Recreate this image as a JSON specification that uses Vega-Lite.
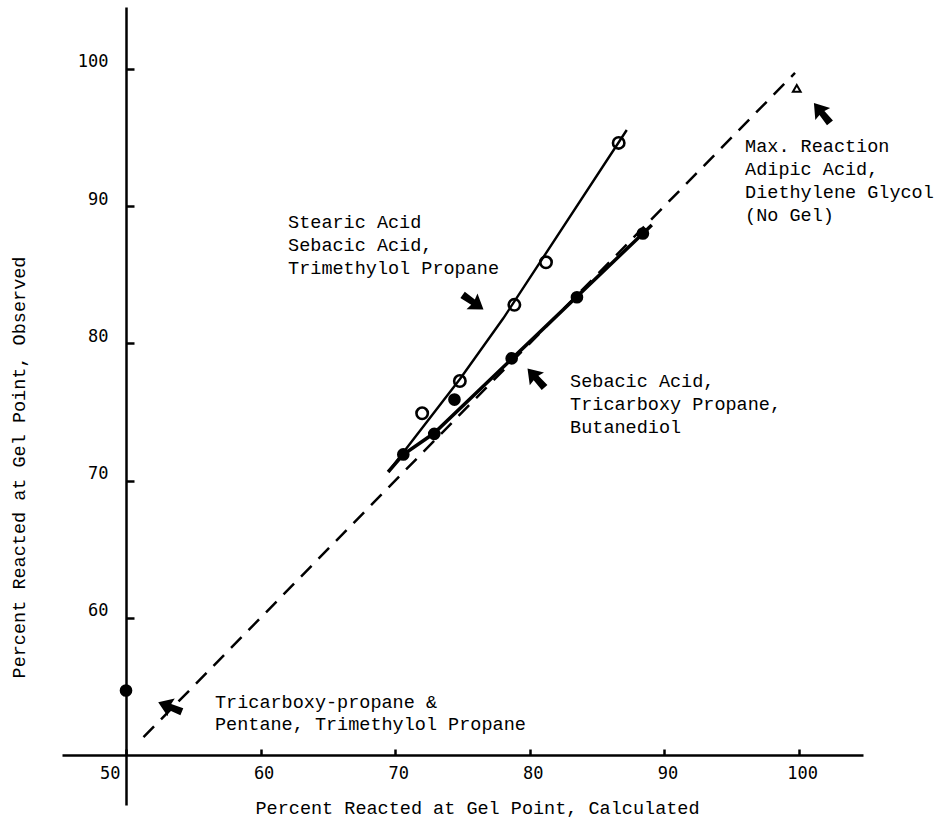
{
  "$schema": "https://vega.github.io/schema/vega-lite/v6.json",
  "width": 801,
  "height": 798,
  "autosize": {"type": "none"},
  "padding": {"left": 62, "top": 7, "right": 79, "bottom": 15},
  "background": "white",
  "config": {"view": {"stroke": null}, "axis": {"grid": false}},
  "datasets": {
    "diag": [{"x": 51.3, "y": 51.3}, {"x": 99.7, "y": 99.7}],
    "openLine": [
      {"x": 69.49, "y": 70.64},
      {"x": 74.81, "y": 77.4},
      {"x": 78.03, "y": 81.82},
      {"x": 87.2, "y": 95.54}
    ],
    "filledLine": [
      {"x": 69.47, "y": 70.62},
      {"x": 70.6, "y": 71.9},
      {"x": 72.88, "y": 73.44},
      {"x": 89.06, "y": 88.62}
    ],
    "open": [
      {"x": 72.0, "y": 74.9},
      {"x": 74.8, "y": 77.25},
      {"x": 78.85, "y": 82.8},
      {"x": 81.2, "y": 85.9},
      {"x": 86.6, "y": 94.6}
    ],
    "filled": [
      {"x": 70.6, "y": 71.9},
      {"x": 72.9, "y": 73.4},
      {"x": 74.4, "y": 75.9},
      {"x": 78.65, "y": 78.9},
      {"x": 83.5, "y": 83.35},
      {"x": 88.4, "y": 88.0},
      {"x": 50.0, "y": 54.7}
    ],
    "maxpt": [{"x": 99.83, "y": 98.57}],
    "arrows": [
      {"x": 101.7, "y": 96.78, "dir": 321},
      {"x": 80.46, "y": 77.47, "dir": 318},
      {"x": 75.78, "y": 83.0, "dir": 125},
      {"x": 53.27, "y": 53.5, "dir": 292}
    ],
    "labels": [
      {"x": 62.04, "y": 88.4, "t": "Stearic Acid"},
      {"x": 62.04, "y": 86.72, "t": "Sebacic Acid,"},
      {"x": 62.04, "y": 85.05, "t": "Trimethylol Propane"},
      {"x": 82.99, "y": 76.81, "t": "Sebacic Acid,"},
      {"x": 82.99, "y": 75.14, "t": "Tricarboxy Propane,"},
      {"x": 82.99, "y": 73.46, "t": "Butanediol"},
      {"x": 95.99, "y": 93.93, "t": "Max. Reaction"},
      {"x": 95.99, "y": 92.26, "t": "Adipic Acid,"},
      {"x": 95.99, "y": 90.58, "t": "Diethylene Glycol"},
      {"x": 95.99, "y": 88.91, "t": "(No Gel)"},
      {"x": 56.61, "y": 53.42, "t": "Tricarboxy-propane &"},
      {"x": 56.61, "y": 51.82, "t": "Pentane, Trimethylol Propane"}
    ]
  },
  "encoding": {
    "x": {
      "field": "x",
      "type": "quantitative",
      "scale": {"domain": [45.245, 104.75], "nice": false, "zero": false},
      "axis": {
        "title": "Percent Reacted at Gel Point, Calculated",
        "values": [50, 60, 70, 80, 90, 100],
        "offset": -50,
        "domainColor": "black",
        "domainWidth": 2.5,
        "tickColor": "black",
        "tickWidth": 2.5,
        "tickSize": -6,
        "labelPadding": 16,
        "labelFont": "DejaVu Sans Mono",
        "labelFontSize": 17,
        "labelColor": "black",
        "labelFlush": false,
        "labelOffset": {"condition": {"test": "datum.value == 50", "value": -6}, "value": 3},
        "labelAlign": {"condition": {"test": "datum.value == 50", "value": "right"}, "value": "center"},
        "titleFont": "Liberation Mono",
        "titleFontSize": 18.5,
        "titleFontWeight": "normal",
        "titleColor": "black",
        "titleX": 415,
        "titleY": 58,
        "titleBaseline": "alphabetic",
        "titleAlign": "center"
      }
    },
    "y": {
      "field": "y",
      "type": "quantitative",
      "scale": {"domain": [46.36, 104.5], "nice": false, "zero": false},
      "axis": {
        "title": "Percent Reacted at Gel Point, Observed",
        "values": [60, 70, 80, 90, 100],
        "offset": -64,
        "domainColor": "black",
        "domainWidth": 2.5,
        "tickColor": "black",
        "tickWidth": 2.5,
        "tickSize": -8,
        "labelPadding": 26,
        "labelOffset": -7,
        "labelFont": "DejaVu Sans Mono",
        "labelFontSize": 17,
        "labelColor": "black",
        "labelFlush": false,
        "titleFont": "Liberation Mono",
        "titleFontSize": 18.5,
        "titleFontWeight": "normal",
        "titleColor": "black",
        "titleX": -108,
        "titleY": 460,
        "titleAngle": 270,
        "titleBaseline": "middle",
        "titleAlign": "center"
      }
    }
  },
  "layer": [
    {
      "data": {"name": "diag"},
      "mark": {"type": "line", "color": "black", "strokeWidth": 2.5, "strokeDash": [15, 10]}
    },
    {
      "data": {"name": "openLine"},
      "mark": {"type": "line", "color": "black", "strokeWidth": 2.4}
    },
    {
      "data": {"name": "filledLine"},
      "mark": {"type": "line", "color": "black", "strokeWidth": 3.5}
    },
    {
      "data": {"name": "open"},
      "mark": {"type": "point", "shape": "circle", "filled": false, "color": "black", "strokeWidth": 2.6, "size": 130, "opacity": 1}
    },
    {
      "data": {"name": "filled"},
      "mark": {"type": "circle", "color": "black", "size": 160, "opacity": 1}
    },
    {
      "data": {"name": "maxpt"},
      "mark": {"type": "point", "shape": "triangle-up", "filled": false, "color": "black", "strokeWidth": 2, "size": 60, "opacity": 1}
    },
    {
      "data": {"name": "arrows"},
      "mark": {
        "type": "point",
        "shape": "M0,-1 L0.75,0.1 L0.25,0.0 L0.3,1 L-0.3,1 L-0.25,0.0 L-0.75,0.1 Z",
        "filled": true,
        "color": "black",
        "size": 650,
        "opacity": 1
      },
      "encoding": {"angle": {"field": "dir", "type": "quantitative", "scale": null}}
    },
    {
      "data": {"name": "labels"},
      "mark": {"type": "text", "font": "Liberation Mono", "fontSize": 18.5, "align": "left", "baseline": "alphabetic", "color": "black"},
      "encoding": {"text": {"field": "t", "type": "nominal"}}
    }
  ]
}
